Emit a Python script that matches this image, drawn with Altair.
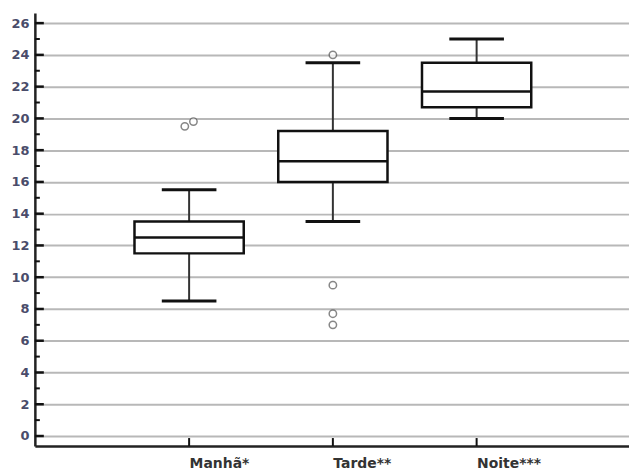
import altair as alt
import pandas as pd

categories = ["Manhã*", "Tarde**", "Noite***"]
lower_whisker = [8.5, 13.5, 20.0]
q1 = [11.5, 16.0, 20.7]
median = [12.5, 17.3, 21.7]
q3 = [13.5, 19.2, 23.5]
upper_whisker = [15.5, 23.5, 25.0]

outlier_cat = ["Manhã*", "Manhã*", "Tarde**", "Tarde**", "Tarde**", "Tarde**"]
outlier_val = [19.5, 19.8, 24.0, 9.5, 7.7, 7.0]
outlier_jitter = [-0.03, 0.03, 0.0, 0.0, 0.0, 0.0]

y_ticks = list(range(0, 27, 2))
y_minor = list(range(1, 27, 2))

pos = {c: i + 1 for i, c in enumerate(categories)}
BW = 0.38   # half box width (data units)
CW = 0.19   # half cap width

box = pd.DataFrame({
    "cat": categories,
    "x": [pos[c] for c in categories],
    "lo": lower_whisker, "q1": q1, "med": median, "q3": q3, "hi": upper_whisker,
})
box["xl"] = box["x"] - BW
box["xr"] = box["x"] + BW
box["cl"] = box["x"] - CW
box["cr"] = box["x"] + CW

out = pd.DataFrame({"cat": outlier_cat, "v": outlier_val})
out["x"] = [pos[c] + j for c, j in zip(outlier_cat, outlier_jitter)]

ticks = pd.DataFrame({"v": y_ticks})
minor = pd.DataFrame({"v": y_minor})
xt = pd.DataFrame({"x": [pos[c] for c in categories]})

W, H = 597, 435
xs = alt.Scale(domain=[-0.073, 4.06], nice=False, zero=False)
ys = alt.Scale(domain=[-0.63, 26.63], nice=False, zero=False)

label_expr = ("datum.value == 1 ? 'Manhã*' : datum.value == 2 ? 'Tarde**' : "
              "datum.value == 3 ? 'Noite***' : ''")

xaxis = alt.Axis(
    values=[1, 2, 3], labelExpr=label_expr, title=None, ticks=False, grid=False,
    domainColor="#222", domainWidth=2.5, labelAlign="left", labelFont="DejaVu Sans",
    labelFontWeight="bold", labelFontSize=14, labelColor="#333", labelPadding=11,
    labelOverlap=False)
yaxis = alt.Axis(
    values=y_ticks, title=None, ticks=False, grid=True, gridColor="#b8b8b8",
    gridWidth=2, domainColor="#222", domainWidth=2.5, labelFont="DejaVu Sans",
    labelFontWeight="bold", labelFontSize=13, labelColor="#4a4c6a", labelPadding=6,
    labelOverlap=False)


def X(f):
    return alt.X(f, type="quantitative", scale=xs, axis=xaxis)


def Y(f):
    return alt.Y(f, type="quantitative", scale=ys, axis=yaxis)


major_t = alt.Chart(ticks).mark_rule(color="#111", strokeWidth=2.5).encode(
    x=alt.value(0), x2=alt.value(9), y=Y("v"))
minor_t = alt.Chart(minor).mark_rule(color="#111", strokeWidth=2).encode(
    x=alt.value(0), x2=alt.value(5), y=Y("v"))
x_t = alt.Chart(xt).mark_rule(color="#111", strokeWidth=2).encode(
    x=X("x"), y=alt.value(H), y2=alt.value(H - 8))

whisk_lo = alt.Chart(box).mark_rule(color="#333", strokeWidth=2).encode(
    x=X("x"), y=Y("lo"), y2="q1:Q")
whisk_hi = alt.Chart(box).mark_rule(color="#333", strokeWidth=2).encode(
    x=X("x"), y=Y("q3"), y2="hi:Q")
cap_lo = alt.Chart(box).mark_rule(color="#111", strokeWidth=3).encode(
    x=X("cl"), x2="cr:Q", y=Y("lo"))
cap_hi = alt.Chart(box).mark_rule(color="#111", strokeWidth=3).encode(
    x=X("cl"), x2="cr:Q", y=Y("hi"))
rect = alt.Chart(box).mark_rect(fill="white", stroke="#111", strokeWidth=2.5).encode(
    x=X("xl"), x2="xr:Q", y=Y("q1"), y2="q3:Q")
med = alt.Chart(box).mark_rule(color="#111", strokeWidth=2.5).encode(
    x=X("xl"), x2="xr:Q", y=Y("med"))
pts = alt.Chart(out).mark_point(shape="circle", size=55, filled=True, fill="white",
                                stroke="#555", strokeWidth=1.5).encode(
    x=X("x"), y=Y("v"))

chart = alt.layer(major_t, minor_t, x_t, whisk_lo, whisk_hi,
                  cap_lo, cap_hi, rect, med, pts).properties(
    width=W, height=H, autosize="none",
    padding={"left": 27, "top": 4, "right": 0, "bottom": 27},
    background="white",
).configure_view(stroke=None)

chart.save("out.html", embed_options={"renderer": "svg", "actions": False})
